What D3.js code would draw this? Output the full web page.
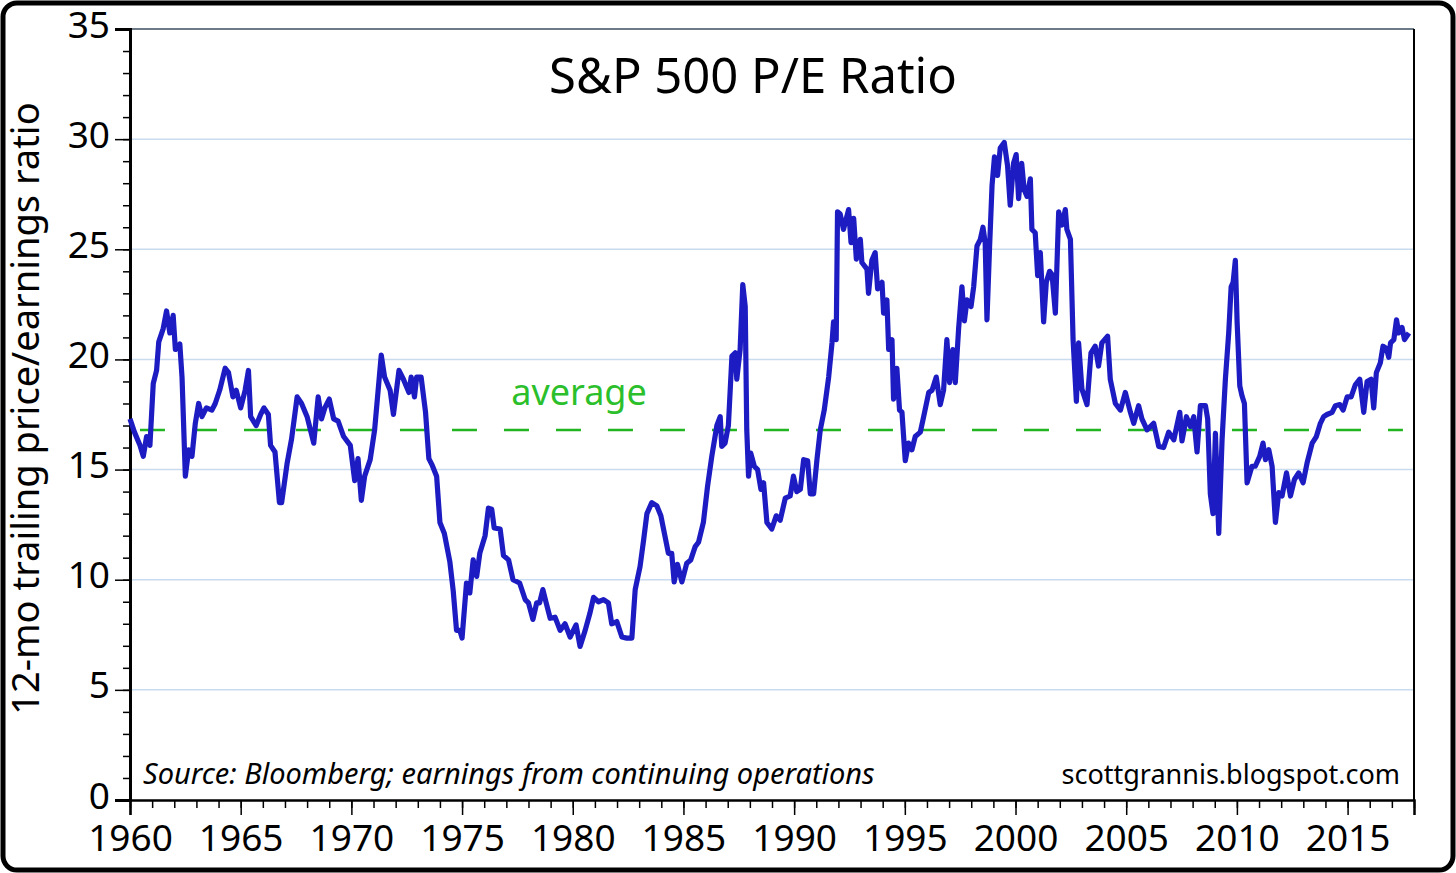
<!DOCTYPE html>
<html>
<head>
<meta charset="utf-8">
<script src="https://cdn.jsdelivr.net/npm/d3@7"></script>
<style>
  body { margin: 0; background: #fff; }
  text { font-family: "Noto Sans", sans-serif; }
</style>
</head>
<body>
<div id="chart"></div>
<script>
// S&P 500 trailing P/E (year fraction, ratio)
const years = [
  1960.0, 1960.2, 1960.45, 1960.6, 1960.75, 1960.9, 1961.05, 1961.2, 1961.3, 1961.5,
  1961.65, 1961.8, 1961.95, 1962.05, 1962.25, 1962.35, 1962.5, 1962.65, 1962.8, 1962.95,
  1963.1, 1963.25, 1963.45, 1963.7, 1963.85, 1964.05, 1964.3, 1964.45, 1964.65, 1964.8,
  1965.0, 1965.2, 1965.35, 1965.45, 1965.7, 1965.9, 1966.05, 1966.25, 1966.35, 1966.55,
  1966.75, 1966.85, 1967.1, 1967.3, 1967.55, 1967.75, 1968.0, 1968.15, 1968.3, 1968.5,
  1968.65, 1968.8, 1969.0, 1969.2, 1969.4, 1969.65, 1969.95, 1970.15, 1970.3, 1970.45,
  1970.6, 1970.85, 1971.05, 1971.35, 1971.5, 1971.75, 1971.9, 1972.15, 1972.35, 1972.6,
  1972.7, 1972.85, 1972.95, 1973.15, 1973.35, 1973.5, 1973.65, 1973.85, 1974.0, 1974.2,
  1974.45, 1974.6, 1974.75, 1974.9, 1975.0, 1975.2, 1975.35, 1975.5, 1975.66, 1975.8,
  1976.04, 1976.19, 1976.34, 1976.45, 1976.72, 1976.87, 1977.1, 1977.3, 1977.6, 1977.85,
  1978.0, 1978.2, 1978.37, 1978.5, 1978.65, 1978.8, 1978.98, 1979.2, 1979.43, 1979.65,
  1979.88, 1980.15, 1980.33, 1980.56, 1980.78, 1980.94, 1981.16, 1981.39, 1981.61, 1981.76,
  1981.99, 1982.22, 1982.44, 1982.67, 1982.82, 1983.04, 1983.2, 1983.35, 1983.57, 1983.8,
  1983.98, 1984.1, 1984.32, 1984.47, 1984.58, 1984.73, 1984.93, 1985.15, 1985.33, 1985.53,
  1985.68, 1985.9, 1986.09, 1986.28, 1986.51, 1986.66, 1986.73, 1986.88, 1987.03, 1987.19,
  1987.34, 1987.41, 1987.56, 1987.68, 1987.79, 1987.86, 1987.94, 1988.04, 1988.2, 1988.35,
  1988.5, 1988.62, 1988.77, 1988.99, 1989.19, 1989.37, 1989.6, 1989.82, 1989.97, 1990.12,
  1990.28, 1990.43, 1990.61, 1990.73, 1990.88, 1991.03, 1991.18, 1991.36, 1991.56, 1991.71,
  1991.78, 1991.9, 1991.96, 1992.08, 1992.23, 1992.46, 1992.57, 1992.69, 1992.81, 1992.99,
  1993.06, 1993.29, 1993.36, 1993.51, 1993.66, 1993.77, 1993.97, 1994.04, 1994.19, 1994.27,
  1994.42, 1994.49, 1994.64, 1994.76, 1994.87, 1995.02, 1995.17, 1995.32, 1995.47, 1995.7,
  1995.85, 1996.08, 1996.23, 1996.42, 1996.6, 1996.75, 1996.9, 1997.02, 1997.17, 1997.28,
  1997.43, 1997.58, 1997.69, 1997.81, 1997.99, 1998.11, 1998.26, 1998.41, 1998.53, 1998.63,
  1998.71, 1998.83, 1998.94, 1999.05, 1999.19, 1999.31, 1999.49, 1999.64, 1999.76, 1999.91,
  2000.03, 2000.14, 2000.28, 2000.39, 2000.52, 2000.67, 2000.74, 2000.89, 2001.0, 2001.12,
  2001.27, 2001.39, 2001.54, 2001.65, 2001.8, 2001.95, 2002.1, 2002.25, 2002.32, 2002.48,
  2002.6, 2002.75, 2002.85, 2003.0, 2003.23, 2003.41, 2003.6, 2003.75, 2003.9, 2004.16,
  2004.28, 2004.51, 2004.74, 2004.96, 2005.19, 2005.34, 2005.56, 2005.71, 2005.94, 2006.24,
  2006.47, 2006.69, 2006.92, 2007.15, 2007.42, 2007.52, 2007.72, 2007.9, 2008.05, 2008.2,
  2008.35, 2008.58, 2008.68, 2008.8, 2008.92, 2009.03, 2009.18, 2009.33, 2009.48, 2009.63,
  2009.74, 2009.83, 2009.93, 2010.01, 2010.13, 2010.23, 2010.34, 2010.46, 2010.68, 2010.83,
  2011.03, 2011.18, 2011.29, 2011.44, 2011.59, 2011.74, 2011.89, 2012.04, 2012.24, 2012.42,
  2012.6, 2012.79, 2012.99, 2013.17, 2013.4, 2013.59, 2013.77, 2013.92, 2014.07, 2014.3,
  2014.45, 2014.65, 2014.8, 2014.98, 2015.16, 2015.35, 2015.55, 2015.73, 2015.88, 2016.06,
  2016.18, 2016.3, 2016.48, 2016.6, 2016.75, 2016.86, 2016.94, 2017.09, 2017.21, 2017.31,
  2017.46, 2017.57, 2017.77
];
const peRatios = [
  17.3, 16.7, 16.1, 15.6, 16.5, 16.1, 18.9, 19.5, 20.8, 21.4,
  22.2, 21.2, 22.0, 20.45, 20.7, 19.2, 14.7, 15.9, 15.6, 17.1,
  18.0, 17.4, 17.8, 17.7, 18.0, 18.6, 19.6, 19.4, 18.3, 18.6,
  17.8, 18.6, 19.5, 17.4, 17.0, 17.5, 17.8, 17.5, 16.1, 15.8,
  13.5, 13.5, 15.3, 16.4, 18.3, 18.0, 17.4, 16.8, 16.2, 18.3,
  17.3, 17.8, 18.2, 17.3, 17.2, 16.5, 16.1, 14.5, 15.5, 13.6,
  14.7, 15.45, 16.8, 20.2, 19.2, 18.6, 17.5, 19.5, 19.1, 18.5,
  19.2, 18.3, 19.2, 19.2, 17.6, 15.5, 15.2, 14.7, 12.6, 12.1,
  10.8, 9.5, 7.7, 7.7, 7.35, 9.85, 9.4, 10.9, 10.15, 11.2,
  12.0, 13.25, 13.2, 12.35, 12.3, 11.1, 10.9, 10.0, 9.85, 9.1,
  8.95, 8.2, 8.95, 8.95, 9.55, 8.95, 8.25, 8.3, 7.7, 8.0,
  7.4, 7.95, 6.97, 7.7, 8.5, 9.2, 9.0, 9.1, 8.95, 8.0,
  8.1, 7.4, 7.35, 7.35, 9.55, 10.6, 11.8, 13.0, 13.5, 13.35,
  12.9, 12.3, 11.2, 11.2, 9.9, 10.7, 9.9, 10.75, 10.9, 11.5,
  11.7, 12.6, 14.25, 15.6, 17.0, 17.4, 16.05, 16.2, 17.0, 20.15,
  20.3, 19.1, 20.45, 23.4, 22.4, 16.8, 14.7, 15.75, 15.15, 15.0,
  14.1, 14.4, 12.6, 12.3, 12.9, 12.7, 13.7, 13.8, 14.7, 14.0,
  14.1, 15.45, 15.4, 13.9, 13.9, 15.45, 16.8, 17.7, 19.2, 20.75,
  21.7, 20.9, 26.7, 26.6, 25.9, 26.8, 25.3, 26.4, 24.55, 25.45,
  24.4, 24.1, 23.0, 24.5, 24.85, 23.2, 23.5, 22.1, 22.7, 20.45,
  20.9, 18.2, 19.6, 17.7, 17.6, 15.4, 16.2, 15.9, 16.5, 16.7,
  17.4, 18.5, 18.6, 19.2, 17.95, 18.6, 20.9, 18.95, 20.45, 18.95,
  21.4, 23.3, 21.75, 22.7, 22.4, 23.3, 25.15, 25.45, 26.0, 25.3,
  21.8, 25.15, 27.9, 29.2, 28.35, 29.6, 29.85, 28.8, 27.0, 28.9,
  29.3, 27.3, 28.9, 27.7, 27.4, 28.2, 25.9, 25.75, 23.8, 24.85,
  21.7, 23.5, 24.0, 23.85, 22.1, 26.7, 26.1, 26.8, 25.9, 25.45,
  20.9, 18.1, 20.75, 18.65, 17.95, 20.3, 20.6, 19.7, 20.75, 21.05,
  19.1, 18.0, 17.7, 18.5, 17.6, 17.1, 17.9, 17.3, 16.8, 17.1,
  16.05, 16.0, 16.7, 16.35, 17.6, 16.3, 17.4, 16.95, 17.4, 15.8,
  17.9, 17.9, 17.3, 13.9, 13.0, 16.65, 12.1, 16.35, 19.1, 21.2,
  23.3, 23.5, 24.5, 21.7, 18.8, 18.35, 18.0, 14.4, 15.15, 15.15,
  15.6, 16.2, 15.45, 15.9, 15.15, 12.6, 13.95, 13.8, 14.85, 13.8,
  14.55, 14.85, 14.4, 15.3, 16.2, 16.5, 17.1, 17.4, 17.5, 17.6,
  17.9, 17.95, 17.7, 18.3, 18.3, 18.85, 19.1, 17.6, 19.0, 19.1,
  17.8, 19.4, 19.85, 20.6, 20.5, 20.1, 20.75, 20.9, 21.8, 21.2,
  21.45, 20.9, 21.2
];
const averagePE = 16.8;
const xTickYears = [1960, 1965, 1970, 1975, 1980, 1985, 1990, 1995, 2000, 2005, 2010, 2015];
const yTickValues = [0, 5, 10, 15, 20, 25, 30, 35];

const width = 1456;
const height = 873;
const margin = { top: 29, right: 42, bottom: 73, left: 130 };

const svg = d3.select("#chart")
  .append("svg")
  .attr("width", width)
  .attr("height", height);

const x = d3.scaleLinear().domain([1960, 2018]).range([margin.left, width - margin.right]);
const y = d3.scaleLinear().domain([0, 35]).range([height - margin.bottom, margin.top]);

// outer frame
svg.append("rect")
  .attr("x", 3).attr("y", 3)
  .attr("width", width - 6).attr("height", height - 6)
  .attr("rx", 14)
  .attr("fill", "#fff")
  .attr("stroke", "#000")
  .attr("stroke-width", 5);

// horizontal grid
svg.append("g")
  .selectAll("line")
  .data(yTickValues.filter(v => v > 0 && v < 35))
  .join("line")
  .attr("x1", x(1960)).attr("x2", x(2018))
  .attr("y1", d => y(d)).attr("y2", d => y(d))
  .attr("stroke", "#c9dcef")
  .attr("stroke-width", 1.5);

// plot frame: top grey, right black
svg.append("line")
  .attr("x1", x(1960)).attr("x2", x(2018))
  .attr("y1", y(35)).attr("y2", y(35))
  .attr("stroke", "#6d7b88").attr("stroke-width", 2);
svg.append("line")
  .attr("x1", x(2018)).attr("x2", x(2018))
  .attr("y1", y(35)).attr("y2", y(0))
  .attr("stroke", "#000").attr("stroke-width", 2);

// y axis
const yMinor = d3.axisLeft(y).ticks(35).tickSize(7).tickFormat("");
const yAxis = d3.axisLeft(y).tickValues(yTickValues).tickSize(15).tickPadding(5);
svg.append("g").attr("transform", `translate(${margin.left},0)`).call(yMinor)
  .call(g => g.select(".domain").remove())
  .call(g => g.selectAll("line").attr("stroke-width", 1.5));
const yg = svg.append("g").attr("transform", `translate(${margin.left},0)`).call(yAxis);
yg.select(".domain").attr("stroke-width", 3);
yg.selectAll("line").attr("stroke-width", 1.5);
yg.selectAll("text")
  .attr("font-size", 37).attr("fill", "#000").attr("font-family", "Noto Sans")
  .attr("dy", "0.22em");

// x axis
const xMinor = d3.axisBottom(x).tickValues(d3.range(1960, 2019)).tickSize(8).tickFormat("");
const xAxis = d3.axisBottom(x).tickValues(xTickYears).tickSize(15).tickFormat(d3.format("d")).tickPadding(10);
svg.append("g").attr("transform", `translate(0,${y(0)})`).call(xMinor)
  .call(g => g.select(".domain").remove())
  .call(g => g.selectAll("line").attr("stroke-width", 1.5));
const xg = svg.append("g").attr("transform", `translate(0,${y(0)})`).call(xAxis);
xg.select(".domain").attr("stroke-width", 2.5);
xg.selectAll("line").attr("stroke-width", 1.5);
xg.selectAll("text").attr("font-size", 37).attr("fill", "#000").attr("font-family", "Noto Sans");

// average line
svg.append("line")
  .attr("x1", x(1960.45)).attr("x2", x(2017.5))
  .attr("y1", y(averagePE)).attr("y2", y(averagePE))
  .attr("stroke", "#22b522")
  .attr("stroke-width", 2.5)
  .attr("stroke-dasharray", "25,27");

svg.append("text")
  .attr("x", 579).attr("y", y(averagePE) - 25)
  .attr("text-anchor", "middle")
  .attr("font-size", 36)
  .attr("fill", "#2cbf2c")
  .text("average");

// P/E line
const data = years.map((yr, i) => ({ year: yr, pe: peRatios[i] }));
const line = d3.line().x(d => x(d.year)).y(d => y(d.pe));
svg.append("path")
  .datum(data)
  .attr("d", line)
  .attr("fill", "none")
  .attr("stroke", "#1c1cc2")
  .attr("stroke-width", 5.2)
  .attr("stroke-linejoin", "round");

// titles and notes
svg.append("text")
  .attr("x", 753).attr("y", 93)
  .attr("text-anchor", "middle")
  .attr("font-size", 49)
  .attr("fill", "#000")
  .text("S&P 500 P/E Ratio");

svg.append("text")
  .attr("transform", `translate(39,${(105 + 712) / 2}) rotate(-90)`)
  .attr("text-anchor", "middle")
  .attr("font-size", 38)
  .attr("fill", "#000")
  .text("12-mo trailing price/earnings ratio");

svg.append("text")
  .attr("x", 143).attr("y", 784)
  .attr("font-size", 29)
  .attr("font-style", "italic")
  .attr("fill", "#000")
  .text("Source: Bloomberg; earnings from continuing operations");

svg.append("text")
  .attr("x", 1400).attr("y", 784)
  .attr("text-anchor", "end")
  .attr("font-size", 27)
  .attr("fill", "#000")
  .text("scottgrannis.blogspot.com");
</script>
</body>
</html>
